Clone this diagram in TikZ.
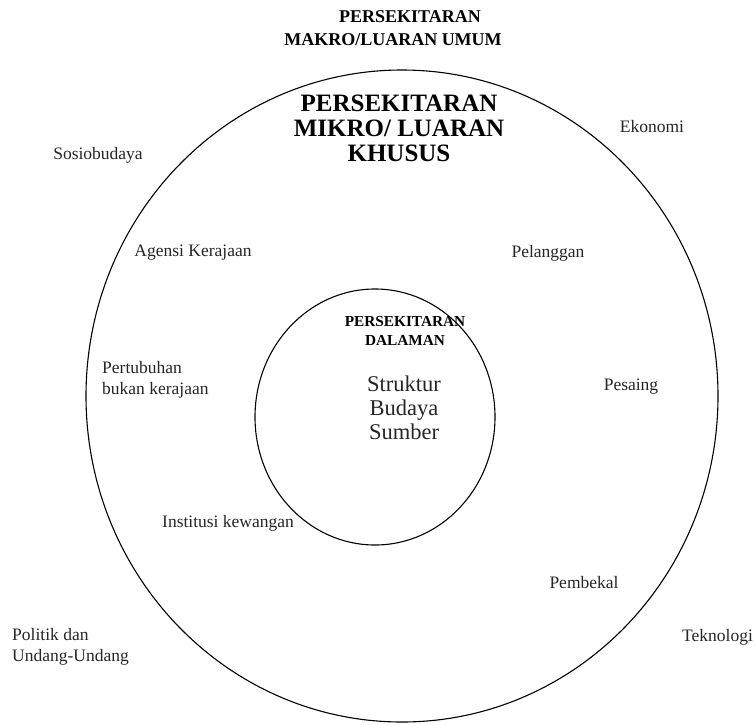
\documentclass[tikz,border=0pt]{standalone}
\usepackage{fontspec}
\setmainfont{Liberation Serif}
\usetikzlibrary{shapes.geometric}
\begin{document}
\begin{tikzpicture}[x=1pt,y=-1pt,
  ring/.style={draw, ellipse, line width=1.1pt, inner sep=0pt},
  factor/.style={font=\fontsize{17.5}{20.5}\selectfont, text=black!85, inner sep=0pt},
  headA/.style={font=\fontsize{18}{23}\bfseries\selectfont, inner sep=0pt},
  headB/.style={font=\fontsize{25}{25}\bfseries\selectfont, align=center, inner sep=0pt},
  headC/.style={font=\fontsize{15.3}{19}\bfseries\selectfont, align=center, inner sep=0pt},
  core/.style={font=\fontsize{22.5}{24}\selectfont, align=center, text=black!85, inner sep=0pt}]
\useasboundingbox (0,0) rectangle (755,724);

% environment rings
\node[ring, minimum width=632pt, minimum height=652pt] (outer) at (402,396) {};
\node[ring, minimum width=240pt, minimum height=256pt] (inner) at (375,417) {};

% headings
\node[headA] (macroA) at (410,17) {PERSEKITARAN};
\node[headA] (macroB) at (393,40) {MAKRO/LUARAN UMUM};
\node[headB] (micro) at (399,128) {PERSEKITARAN\\MIKRO/ LUARAN\\KHUSUS};
\node[headC] (internal) at (405,331) {PERSEKITARAN\\DALAMAN};
\node[core] (elements) at (404,408) {Struktur\\Budaya\\Sumber};

% macro factors
\node[factor] (ekonomi) at (652,127) {Ekonomi};
\node[factor] (sosio) at (98,155) {Sosiobudaya};
\node[factor, anchor=west, align=left] (politik) at (12,647) {Politik dan\\Undang-Undang};
\node[factor, anchor=west] (tekno) at (682,637) {Teknologi};

% micro factors
\node[factor] (agensi) at (193,253) {Agensi Kerajaan};
\node[factor] (pelanggan) at (548,253) {Pelanggan};
\node[factor, anchor=west, align=left] (ngo) at (102,380) {Pertubuhan\\bukan kerajaan};
\node[factor] (pesaing) at (631,387) {Pesaing};
\node[factor, anchor=west] (institusi) at (162,523) {Institusi kewangan};
\node[factor] (pembekal) at (584,583) {Pembekal};
\end{tikzpicture}
\end{document}
